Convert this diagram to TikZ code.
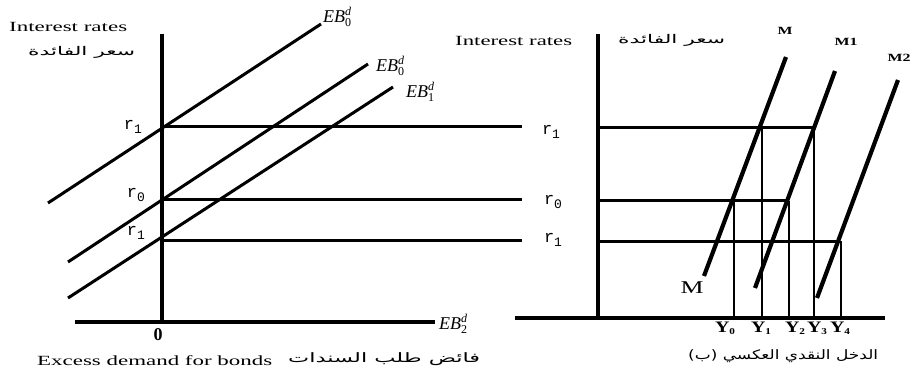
\documentclass[tikz,border=0pt]{standalone}
\usepackage{fontspec}
\setmainfont{Liberation Serif}
\newfontfamily\arabicfont[Script=Arabic]{DejaVu Sans}
\newfontfamily\rfont{Liberation Mono}
\TeXXeTstate=1
\newcommand{\fw}[2]{\resizebox{#1pt}{\height}{#2}}
\newcommand{\rl}[1]{{\rfont\fontsize{17}{17}\selectfont r\raisebox{-4pt}{\fontsize{13}{13}\selectfont #1}}}
\newcommand{\yl}[1]{\fw{20}{\fontsize{16}{16}\selectfont\bfseries Y\raisebox{-2pt}{\fontsize{9}{9}\selectfont #1}}}
\newcommand{\eb}[1]{{\fontsize{18}{18}\selectfont\textit{EB}\rlap{\raisebox{7pt}{\fontsize{12}{12}\selectfont\itshape d}}\raisebox{-4pt}{\fontsize{12}{12}\selectfont #1}}}
\begin{document}
\begin{tikzpicture}[x=1pt,y=-1pt,
  axis/.style={line width=4.5pt},
  rline/.style={line width=3pt},
  diag/.style={line width=3pt},
  mline/.style={line width=4.2pt},
  thinv/.style={line width=1.3pt},
  lbl/.style={inner sep=0pt}]
\useasboundingbox (0,0) rectangle (911,377);
% ---------- left panel coordinates
\coordinate (LVt) at (162,34);
\coordinate (LVb) at (162,324);
\coordinate (LHl) at (75,322);
\coordinate (LHr) at (435,322);
\coordinate (A1) at (162,127); \coordinate (B1) at (522,127);
\coordinate (A0) at (162,200); \coordinate (B0) at (522,200);
\coordinate (A2) at (162,240); \coordinate (B2) at (522,240);
\coordinate (D1a) at (48,203);  \coordinate (D1b) at (321,24);
\coordinate (D2a) at (68,262);  \coordinate (D2b) at (368,64);
\coordinate (D3a) at (68,298);  \coordinate (D3b) at (393,87);
\draw[axis] (LVt) -- (LVb);
\draw[axis] (LHl) -- (LHr);
\draw[rline] (A1) -- (B1);
\draw[rline] (A0) -- (B0);
\draw[rline] (A2) -- (B2);
\draw[diag] (D1a) -- (D1b);
\draw[diag] (D2a) -- (D2b);
\draw[diag] (D3a) -- (D3b);
% left labels
\node[lbl,anchor=west] (irL) at (9,27) {\fw{118}{\fontsize{14}{14}\selectfont Interest rates}};
\node[lbl,anchor=west] (arL) at (28,52) {\fw{107}{\fontsize{12}{12}\selectfont\arabicfont\beginR سعر الفائدة\endR}};
\node[lbl] (rL1) at (133,127) {\rl{1}};
\node[lbl] (rL0) at (136,195) {\rl{0}};
\node[lbl] (rL2) at (136,233) {\rl{1}};
\node[lbl] (rR1) at (551,132) {\rl{1}};
\node[lbl] (rR0) at (553,202) {\rl{0}};
\node[lbl] (rR2) at (553,240) {\rl{1}};
\node[lbl] (zero) at (158,335) {\fontsize{18}{18}\selectfont\bfseries 0};
\node[lbl,anchor=west] (eb0a) at (323,17) {\eb{0}};
\node[lbl,anchor=west] (eb0b) at (376,66) {\eb{0}};
\node[lbl,anchor=west] (eb1) at (406,92) {\eb{1}};
\node[lbl,anchor=west] (eb2) at (439,324) {\eb{2}};
\node[lbl,anchor=west] (exd) at (37,361) {\fw{235}{\fontsize{14}{14}\selectfont Excess demand for bonds}};
\node[lbl,anchor=west] (arB) at (288,359) {\fw{192}{\fontsize{13}{13}\selectfont\arabicfont\beginR فائض طلب السندات\endR}};
% ---------- right panel
\coordinate (RVt) at (598,34);
\coordinate (RVb) at (598,320);
\coordinate (RHl) at (515,318);
\coordinate (RHr) at (885,318);
\coordinate (P1) at (598,128); \coordinate (Q1) at (813,128);
\coordinate (P0) at (598,201); \coordinate (Q0) at (788,201);
\coordinate (P2) at (598,241); \coordinate (Q2) at (840,241);
\coordinate (Ma) at (704,276);  \coordinate (Mb) at (786,57);
\coordinate (M1a) at (755,288); \coordinate (M1b) at (835,71);
\coordinate (M2a) at (817,298); \coordinate (M2b) at (898,80);
\coordinate (Y0t) at (734,201); \coordinate (Y0b) at (734,318);
\coordinate (Y1t) at (762,128); \coordinate (Y1b) at (762,318);
\coordinate (Y2t) at (789,201); \coordinate (Y2b) at (789,318);
\coordinate (Y3t) at (814,128); \coordinate (Y3b) at (814,318);
\coordinate (Y4t) at (841,241); \coordinate (Y4b) at (841,318);
\draw[thinv] (Y0t) -- (Y0b);
\draw[thinv] (Y1t) -- (Y1b);
\draw[thinv] (Y2t) -- (Y2b);
\draw[thinv] (Y3t) -- (Y3b);
\draw[thinv] (Y4t) -- (Y4b);
\draw[axis] (RVt) -- (RVb);
\draw[axis] (RHl) -- (RHr);
\draw[rline] (P1) -- (Q1);
\draw[rline] (P0) -- (Q0);
\draw[rline] (P2) -- (Q2);
\draw[mline] (Ma) -- (Mb);
\draw[mline] (M1a) -- (M1b);
\draw[mline] (M2a) -- (M2b);
% right labels
\node[lbl,anchor=west] (irR) at (455,41) {\fw{117}{\fontsize{14}{14}\selectfont Interest rates}};
\node[lbl,anchor=west] (arR) at (618,40) {\fw{107}{\fontsize{12}{12}\selectfont\arabicfont\beginR سعر الفائدة\endR}};
\node[lbl] (mbig) at (692,288) {\fw{23}{\fontsize{18}{18}\selectfont M}};
\node[lbl] (m0) at (785,31) {\fw{15}{\fontsize{11}{11}\selectfont\bfseries M}};
\node[lbl] (m1) at (846,42) {\fw{23}{\fontsize{11}{11}\selectfont\bfseries M1}};
\node[lbl] (m2) at (899,58) {\fw{23}{\fontsize{11}{11}\selectfont\bfseries M2}};
\node[lbl] (y0) at (725,328) {\yl{0}};
\node[lbl] (y1) at (761,328) {\yl{1}};
\node[lbl] (y2) at (795,328) {\yl{2}};
\node[lbl] (y3) at (817,328) {\yl{3}};
\node[lbl] (y4) at (840,328) {\yl{4}};
\node[lbl,anchor=west] (arBR) at (688,356) {\fw{190}{\fontsize{13}{13}\selectfont\arabicfont\beginR الدخل النقدي العكسي (ب)\endR}};
\end{tikzpicture}
\end{document}
